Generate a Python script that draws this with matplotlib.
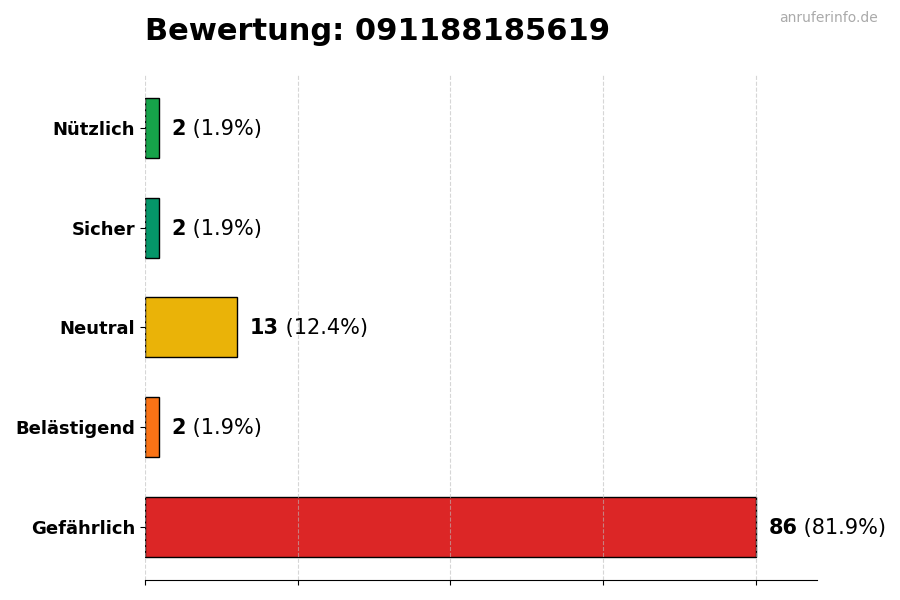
import matplotlib
matplotlib.use("Agg")
import matplotlib.pyplot as plt
import numpy as np

# data (top to bottom as shown)
categories = ["Nützlich", "Sicher", "Neutral", "Belästigend", "Gefährlich"]
counts = [2, 2, 13, 2, 86]
colors = ["#16a34a", "#059669", "#eab308", "#f97316", "#dc2626"]
title = "Bewertung: 091188185619"

total = sum(counts)
max_val = max(counts)

fig = plt.figure(figsize=(9, 6), dpi=100)
ax = fig.add_axes([0.161, 0.0333, 0.747, 0.842])

ypos = np.arange(len(categories))[::-1]
ax.barh(ypos, counts, height=0.6, color=colors, edgecolor="black", linewidth=1)

ax.set_yticks(ypos)
ax.set_yticklabels(categories, fontsize=13, fontweight="bold")
ax.set_xlim(0, max_val * 1.1)
ax.set_xticks(np.linspace(0, max_val, 5))
ax.set_xticklabels([])
ax.grid(axis="x", linestyle="--", color="#bbbbbb", alpha=0.6, linewidth=0.8)

for s in ["top", "right", "left"]:
    ax.spines[s].set_visible(False)

fig.canvas.draw()
renderer = fig.canvas.get_renderer()
for y, c in zip(ypos, counts):
    pct = c / total * 100
    t = ax.text(c + max_val * 0.02, y - 0.01, str(c), va="center", ha="left",
                fontsize=15, fontweight="bold")
    bb = t.get_window_extent(renderer=renderer)
    ax.annotate(" (%.1f%%)" % pct, xy=(bb.x1, (bb.y0 + bb.y1) / 2),
                xycoords="figure pixels", va="center", ha="left", fontsize=15)

fig.text(145 / 900, 1 - 31.5 / 600, title, fontsize=22, fontweight="bold",
         va="center", ha="left")
fig.text(878 / 900, 1 - 18 / 600, "anruferinfo.de", fontsize=10,
         color="#aaaaaa", va="center", ha="right")

fig.savefig("out.png", dpi=100)
